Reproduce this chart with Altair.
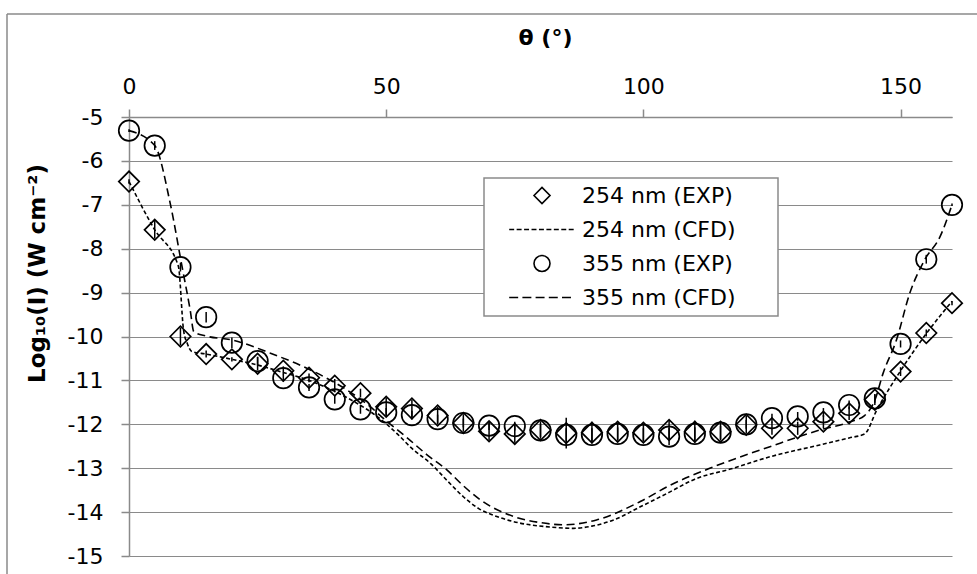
import altair as alt
import pandas as pd

# ---------------- data ----------------
angles = [0, 5, 10, 15, 20, 25, 30, 35, 40, 45, 50, 55, 60, 65, 70, 75, 80,
          85, 90, 95, 100, 105, 110, 115, 120, 125, 130, 135, 140, 145, 150, 155, 160]

exp254 = [-6.47, -7.57, -10.0, -10.40, -10.52, -10.62, -10.78, -10.94, -11.12, -11.29,
          -11.60, -11.64, -11.80, -11.97, -12.16, -12.22, -12.13, -12.20, -12.19, -12.17,
          -12.19, -12.13, -12.17, -12.17, -12.01, -12.09, -12.09, -11.94, -11.75, -11.44,
          -10.80, -9.92, -9.24]
err254 = [0.05, 0.2, 0.2, 0.08, 0.05, 0.15, 0.1, 0.1, 0.15, 0.1, 0.2, 0.2, 0.2, 0.2, 0.2,
          0.2, 0.2, 0.35, 0.25, 0.2, 0.2, 0.22, 0.25, 0.2, 0.2, 0.15, 0.15, 0.15, 0.15,
          0.12, 0.1, 0.08, 0.05]

exp355 = [-5.31, -5.65, -8.42, -9.56, -10.14, -10.56, -10.95, -11.16, -11.43, -11.66,
          -11.73, -11.79, -11.88, -11.97, -12.03, -12.04, -12.14, -12.24, -12.24, -12.22,
          -12.24, -12.28, -12.22, -12.19, -12.00, -11.86, -11.82, -11.73, -11.56, -11.41,
          -10.17, -8.24, -7.00]
err355 = [0.03, 0.1, 0.1, 0.12, 0.12, 0.1, 0.08, 0.08, 0.1, 0.1, 0.1, 0.1, 0.1, 0.1, 0.1,
          0.1, 0.15, 0.15, 0.15, 0.15, 0.15, 0.2, 0.15, 0.15, 0.1, 0.1, 0.1, 0.1, 0.1,
          0.1, 0.08, 0.1, 0.03]

cfd254_x = [0, 5, 9.6, 10.6, 11.3, 12.2, 15, 20, 25, 30, 35, 40, 44, 48, 52, 55, 58.6, 62,
            65, 68, 71.5, 76, 81, 86.4, 90, 94.2, 99.4, 105, 110, 116.9, 124.6, 134.3,
            140, 143, 145.4, 149.9, 155.1, 160]
cfd254_y = [-6.47, -7.57, -8.4, -9.85, -10.15, -10.34, -10.4, -10.52, -10.65, -10.82,
            -11.0, -11.25, -11.5, -11.8, -12.2, -12.55, -12.89, -13.3, -13.65, -13.92,
            -14.1, -14.25, -14.33, -14.37, -14.32, -14.18, -13.88, -13.55, -13.25, -13.02,
            -12.74, -12.47, -12.31, -12.22, -11.67, -10.8, -9.92, -9.2]

cfd355_x = [0, 5, 8, 10.3, 11.9, 12.6, 15, 20, 27.5, 37.8, 42.4, 46.9, 50, 54, 58, 61.8,
            65, 68.3, 74.8, 80, 84.5, 90.9, 99.4, 105, 113.6, 124.6, 134.3, 140, 143, 145,
            146.6, 149.2, 151.8, 154.7, 157.7, 160]
cfd355_y = [-5.31, -5.65, -6.96, -8.4, -9.4, -9.89, -9.99, -10.08, -10.38, -10.91, -11.22,
            -11.6, -11.92, -12.3, -12.7, -13.04, -13.4, -13.72, -14.1, -14.24, -14.29,
            -14.18, -13.76, -13.4, -12.97, -12.51, -12.13, -11.95, -11.8, -11.45, -10.84,
            -10.08, -9.01, -8.25, -7.72, -7.0]

series = ["254 nm (EXP)", "254 nm (CFD)", "355 nm (EXP)", "355 nm (CFD)"]
x_ticks = [0, 50, 100, 150]
y_ticks = list(range(-15, -4))

# ---------------- styling helpers ----------------
FONT = "DejaVu Sans"
GREY = "#8a8a8a"


def dashed_path(start, dash, gap, count):
    parts = []
    pos = start
    for _ in range(count):
        parts.append(f"M{pos:.3f},0L{pos + dash:.3f},0")
        pos += dash + gap
    return "".join(parts)


# legend symbols (units of 8 px for symbolSize 256)
path254 = dashed_path(-4.1, 0.62, 0.31, 9)
path355 = dashed_path(-4.1, 1.12, 0.53, 5)

exp_df = pd.concat([
    pd.DataFrame({"theta": angles, "val": exp254, "err": err254, "series": series[0]}),
    pd.DataFrame({"theta": angles, "val": exp355, "err": err355, "series": series[2]}),
])
exp_df["lo"] = exp_df["val"] - exp_df["err"]
exp_df["hi"] = exp_df["val"] + exp_df["err"]

cfd_df = pd.concat([
    pd.DataFrame({"theta": cfd254_x, "val": cfd254_y, "series": series[1]}),
    pd.DataFrame({"theta": cfd355_x, "val": cfd355_y, "series": series[3]}),
])

xscale = alt.Scale(domain=[0, 160], nice=False, zero=False)
yscale = alt.Scale(domain=[-15, -5], nice=False, zero=False)

x_axis = alt.Axis(
    orient="top", values=x_ticks, grid=False, title="θ (°)", labelFlush=False,
    titleFont=FONT, titleFontSize=22, titleFontWeight="bold", titleColor="black",
    titleX=416, titleY=-80, titleBaseline="middle", titleAlign="center", titleAngle=0,
    labelFont=FONT, labelFontSize=22, labelColor="black", labelPadding=11,
    tickSize=8, tickColor=GREY, tickWidth=1.5, domainColor=GREY, domainWidth=1.5,
)
y_axis = alt.Axis(
    orient="left", values=y_ticks, grid=True, gridColor=GREY, gridWidth=1.2,
    title="Log₁₀(I) (W cm⁻²)", labelFlush=False,
    titleFont=FONT, titleFontSize=23, titleFontWeight="bold", titleColor="black",
    titleX=-92, titleY=156, titleBaseline="middle", titleAlign="center", titleAngle=270,
    labelFont=FONT, labelFontSize=22, labelColor="black", labelPadding=18,
    labelExpr="'' + datum.value",
    tickSize=8, tickColor=GREY, tickWidth=1.5, domainColor=GREY, domainWidth=1.5,
)

lines = alt.Chart(cfd_df).mark_line(color="black", strokeWidth=1.6, interpolate="monotone").encode(
    x=alt.X("theta:Q", scale=xscale, axis=x_axis),
    y=alt.Y("val:Q", scale=yscale, axis=y_axis),
    strokeDash=alt.StrokeDash("series:N", scale=alt.Scale(
        domain=[series[1], series[3]], range=[[4, 2.5], [8, 4.5]]), legend=None),
    detail="series:N",
)

errs = alt.Chart(exp_df).mark_rule(color="black", strokeWidth=1.5).encode(
    x="theta:Q", y="lo:Q", y2="hi:Q",
)

points = alt.Chart(exp_df).mark_point(
    filled=False, size=420, strokeWidth=1.7, color="black", opacity=1
).encode(
    x="theta:Q",
    y="val:Q",
    shape=alt.Shape("series:N", scale=alt.Scale(
        domain=series, range=["diamond", path254, "circle", path355]),
        legend=alt.Legend(
            orient="none", legendX=355, legendY=61, title=None,
            strokeColor="transparent", fillColor="transparent", padding=6.5,
            symbolOffset=40.5, labelOffset=29, rowPadding=11,
            symbolSize=256, symbolStrokeWidth=1.6, symbolStrokeColor="black",
            symbolFillColor="transparent",
            labelFont=FONT, labelFontSize=22, labelColor="black", labelLimit=400,
        )),
)

dummy = pd.DataFrame({"a": [0]})
# legend frame (white box with grey outline behind the legend entries)
legend_frame = alt.Chart(dummy).mark_rect(
    fill="white", stroke=GREY, strokeWidth=1.5
).encode(x=alt.value(355), x2=alt.value(649), y=alt.value(61), y2=alt.value(199))

border_top = alt.Chart(dummy).mark_rule(color=GREY, strokeWidth=1.5).encode(
    x=alt.value(-122), x2=alt.value(870), y=alt.value(-103))
border_left = alt.Chart(dummy).mark_rule(color=GREY, strokeWidth=1.5).encode(
    x=alt.value(-122), y=alt.value(-103), y2=alt.value(480))

chart = alt.layer(lines, errs, points, legend_frame, border_top, border_left).properties(
    width=823, height=439,
    padding={"left": 129, "top": 117, "right": 25, "bottom": 18},
    autosize=alt.AutoSizeParams(type="none"),
    background="white",
).configure_view(stroke=None)

chart.save("out.html", embed_options={"renderer": "svg", "actions": False})
